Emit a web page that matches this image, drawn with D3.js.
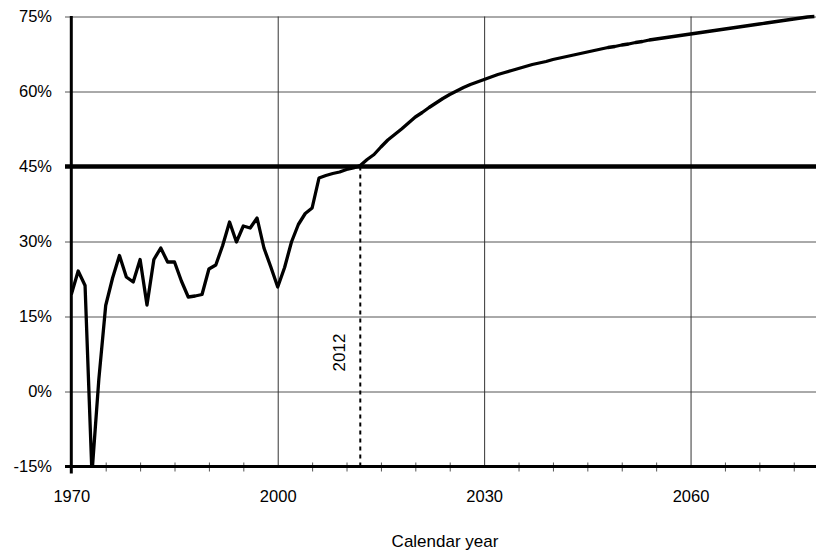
<!DOCTYPE html>
<html>
<head>
<meta charset="utf-8">
<script src="https://cdn.jsdelivr.net/npm/d3@7"></script>
<style>
  html, body { margin: 0; padding: 0; background: #fff; }
  svg { display: block; font-family: "Liberation Sans", Arial, sans-serif; }
</style>
</head>
<body>
<svg id="chart" width="816" height="555"></svg>
<script>
// ---- data ----
const historyStart = 1970;
const historyValues = [19.4, 24.1, 21.2, -16.5, 2.4, 17.2, 22.7, 27.2, 22.9, 21.9,
  26.4, 17.3, 26.4, 28.7, 25.9, 25.9, 22.1, 18.9, 19.1, 19.4,
  24.5, 25.3, 29.2, 33.9, 29.9, 33.1, 32.7, 34.7, 28.7, 24.9,
  20.9, 24.8, 29.9, 33.4, 35.6, 36.7, 42.7, 43.2, 43.6, 43.9,
  44.4, 44.7, 45.2];
const projectionStart = 2013;
const projectionValues = [46.4, 47.4, 48.9, 50.3, 51.4, 52.5, 53.7, 54.9, 55.8, 56.8,
  57.7, 58.6, 59.4, 60.1, 60.8, 61.4, 61.9, 62.4, 62.9, 63.4,
  63.8, 64.2, 64.6, 65.0, 65.4, 65.7, 66.0, 66.4, 66.7, 67.0,
  67.3, 67.6, 67.9, 68.2, 68.5, 68.8, 69.0, 69.3, 69.5, 69.8,
  70.0, 70.3, 70.5, 70.7, 70.9, 71.1, 71.3, 71.5, 71.7, 71.9,
  72.1, 72.3, 72.5, 72.7, 72.9, 73.1, 73.3, 73.5, 73.7, 73.9,
  74.1, 74.3, 74.5, 74.7, 74.9, 75.0];
const yTickValues = [75, 60, 45, 30, 15, 0, -15];
const xLabelTicks = [1970, 2000, 2030, 2060];
const xGridTicks = [2000, 2030, 2060];
const xMinorTicks = [1975, 1980, 1985, 1990, 1995, 2005, 2010, 2015, 2020, 2025,
  2035, 2040, 2045, 2050, 2055, 2065, 2070, 2075];
const thresholdValue = 45;
const markerYear = 2012;
const markerLabel = "2012";
const xTitle = "Calendar year";

// ---- layout ----
const W = 816, H = 555;
const pL = 71.3, pR = 814.4, pT = 16.5, pB = 466.5;
const svg = d3.select("#chart");
svg.append("rect").attr("width", W).attr("height", H).attr("fill", "#fff");

const x = d3.scaleLinear().domain([1970, 2078]).range([pL, pR]);
const y = d3.scaleLinear().domain([-15, 75]).range([pB, pT]);

const series = historyValues.map((v, i) => ({ year: historyStart + i, v }))
  .concat(projectionValues.map((v, i) => ({ year: projectionStart + i, v })));

// horizontal gridlines + y labels
const yAxis = svg.append("g")
  .attr("transform", `translate(65,0)`)
  .call(d3.axisLeft(y).tickValues(yTickValues)
    .tickSize(-(W - 65)).tickSizeOuter(0).tickPadding(13)
    .tickFormat(d => d + "%"));
yAxis.select(".domain").remove();
yAxis.selectAll(".tick line")
  .attr("stroke", "#555")
  .attr("stroke-width", d => (d === thresholdValue || d === -15) ? 0 : 1);
yAxis.selectAll(".tick text")
  .attr("font-size", 16.5).attr("fill", "#000")
  .attr("font-family", "Liberation Sans, Arial, sans-serif");

// vertical gridlines
const xGrid = svg.append("g")
  .attr("transform", `translate(0,${pB})`)
  .call(d3.axisBottom(x).tickValues(xGridTicks).tickSize(-(pB - pT)).tickFormat(""));
xGrid.select(".domain").remove();
xGrid.selectAll(".tick line").attr("stroke", "#333").attr("stroke-width", 1);

// minor ticks
const xMinor = svg.append("g")
  .attr("transform", `translate(0,${pB - 4})`)
  .call(d3.axisBottom(x).tickValues(xMinorTicks).tickSize(9).tickFormat(""));
xMinor.select(".domain").remove();
xMinor.selectAll(".tick line").attr("stroke", "#555").attr("stroke-width", 1);

// x labels
const xLab = svg.append("g")
  .attr("transform", `translate(0,${pB})`)
  .call(d3.axisBottom(x).tickValues(xLabelTicks).tickSize(0).tickPadding(24).tickFormat(d3.format("d")));
xLab.select(".domain").remove();
xLab.selectAll(".tick text")
  .attr("font-size", 16.5).attr("fill", "#000")
  .attr("font-family", "Liberation Sans, Arial, sans-serif");

// marker dashed line
svg.append("line")
  .attr("x1", x(markerYear)).attr("x2", x(markerYear))
  .attr("y1", y(thresholdValue)).attr("y2", pB)
  .attr("stroke", "#000").attr("stroke-width", 2)
  .attr("stroke-dasharray", "4,4");

svg.append("text")
  .attr("transform", `translate(${x(markerYear) - 15},${y(7.8)}) rotate(-90)`)
  .attr("text-anchor", "middle")
  .attr("font-size", 17)
  .text(markerLabel);

// clip
svg.append("clipPath").attr("id", "plotclip")
  .append("rect").attr("x", pL).attr("y", pT - 5)
  .attr("width", W - pL).attr("height", pB - pT + 5);

// data line
const line = d3.line().x(d => x(d.year)).y(d => y(d.v));
svg.append("path")
  .datum(series)
  .attr("clip-path", "url(#plotclip)")
  .attr("fill", "none")
  .attr("stroke", "#000")
  .attr("stroke-width", 3.3)
  .attr("stroke-linejoin", "round")
  .attr("d", line);

// threshold line
svg.append("line")
  .attr("x1", 65).attr("x2", W)
  .attr("y1", y(thresholdValue)).attr("y2", y(thresholdValue))
  .attr("stroke", "#000").attr("stroke-width", 4.6);

// axes lines
svg.append("line")
  .attr("x1", pL).attr("x2", pL)
  .attr("y1", pT - 0.5).attr("y2", pB + 7)
  .attr("stroke", "#000").attr("stroke-width", 3);
svg.append("line")
  .attr("x1", 65).attr("x2", W)
  .attr("y1", pB).attr("y2", pB)
  .attr("stroke", "#000").attr("stroke-width", 3);

// x title
svg.append("text")
  .attr("x", 445)
  .attr("y", 546.5)
  .attr("text-anchor", "middle")
  .attr("font-size", 17)
  .text(xTitle);
</script>
</body>
</html>
